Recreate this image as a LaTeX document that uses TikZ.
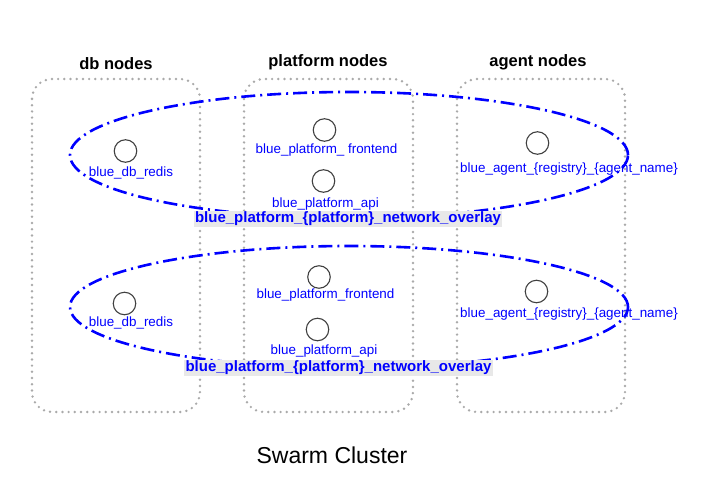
\documentclass[tikz,border=0pt]{standalone}
\usepackage{fontspec}
\setmainfont{Liberation Sans}
\definecolor{swblue}{HTML}{0000FF}
\definecolor{swdots}{HTML}{AAAAAA}
\definecolor{swband}{HTML}{E8E8E8}
\begin{document}
\begin{tikzpicture}[x=1pt,y=-1pt,
  grp/.style={draw=swdots,line width=2.7pt,dash pattern=on 0pt off 6.2pt,line cap=round,rounded corners=20pt},
  net/.style={draw=swblue,line width=2.6pt,dash pattern=on 14pt off 5pt on 2pt off 5pt},
  svc/.style={draw=black!75,circle,minimum size=22.5pt,inner sep=0pt,line width=1.1pt},
  lab/.style={text=swblue,font=\fontsize{13.4}{15}\selectfont,inner sep=0pt},
  ovl/.style={text=swblue,fill=swband,font=\fontsize{15}{17}\selectfont\bfseries,inner sep=1.5pt},
  ttl/.style={font=\fontsize{16.5}{19}\selectfont\bfseries}]
  \useasboundingbox (0,0) rectangle (711,484);
  % the three node groups
  \draw[grp] (32,79) rectangle (200,412);
  \draw[grp] (244,79) rectangle (413,412);
  \draw[grp] (457,79) rectangle (625,412);
  \node[ttl] (tdb) at (116,63.5) {db nodes};
  \node[ttl] (tpf) at (328,62.5) {platform nodes};
  \node[ttl] (tag) at (538,62.5) {agent nodes};
  % first overlay network
  \draw[net] (349,155) ellipse [x radius=279pt,y radius=63pt];
  \node[svc] (r1) at (125.5,151) {};
  \node[lab] (r1l) at (131,173) {blue\_db\_redis};
  \node[svc] (f1) at (324.5,130) {};
  \node[lab] (f1l) at (326.5,150) {blue\_platform\_ frontend};
  \node[svc] (a1) at (323.5,181) {};
  \node[lab] (a1l) at (325.5,204) {blue\_platform\_api};
  \node[svc] (g1) at (537.5,143) {};
  \node[lab] (g1l) at (569,169) {blue\_agent\_\{registry\}\_\{agent\_name\}};
  \node[ovl] (o1) at (348,219) {blue\_platform\_\{platform\}\_network\_overlay};
  % second overlay network
  \draw[net] (349,307) ellipse [x radius=279pt,y radius=61pt];
  \node[svc] (r2) at (124.5,303.5) {};
  \node[lab] (r2l) at (131,323) {blue\_db\_redis};
  \node[svc] (f2) at (319,277) {};
  \node[lab] (f2l) at (325.5,295) {blue\_platform\_frontend};
  \node[svc] (a2) at (317.5,329.5) {};
  \node[lab] (a2l) at (324,351) {blue\_platform\_api};
  \node[svc] (g2) at (536.5,291.5) {};
  \node[lab] (g2l) at (569,314) {blue\_agent\_\{registry\}\_\{agent\_name\}};
  \node[ovl] (o2) at (338.5,368) {blue\_platform\_\{platform\}\_network\_overlay};
  \node[font=\fontsize{23}{27}\selectfont] (sc) at (332,455) {Swarm Cluster};
\end{tikzpicture}
\end{document}
